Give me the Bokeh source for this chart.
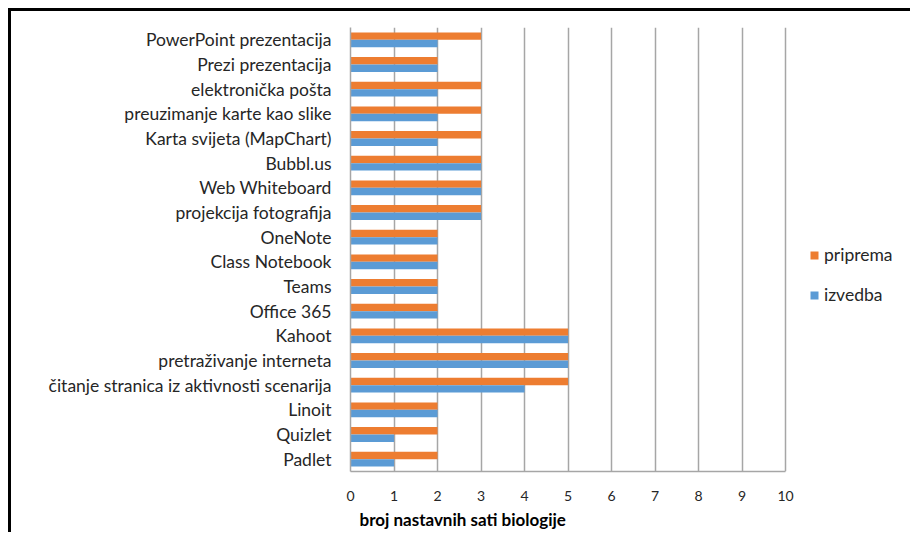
from bokeh.plotting import figure
from bokeh.models import Legend, LegendItem, Title, FixedTicker
from bokeh.transform import dodge
from bokeh.embed import file_html
from bokeh.resources import INLINE
from bokeh.models import ColumnDataSource

# Categories listed from bottom to top
categories = [
    "Padlet", "Quizlet", "Linoit",
    "čitanje stranica iz aktivnosti scenarija",
    "pretraživanje interneta", "Kahoot", "Office 365", "Teams",
    "Class Notebook", "OneNote", "projekcija fotografija",
    "Web Whiteboard", "Bubbl.us", "Karta svijeta (MapChart)",
    "preuzimanje karte kao slike", "elektronička pošta",
    "Prezi prezentacija", "PowerPoint prezentacija",
]
priprema = [2, 2, 2, 5, 5, 5, 2, 2, 2, 2, 3, 3, 3, 3, 3, 3, 2, 3]
izvedba = [1, 1, 2, 4, 5, 5, 2, 2, 2, 2, 3, 3, 3, 2, 2, 2, 2, 2]
x_ticks = [0, 1, 2, 3, 4, 5, 6, 7, 8, 9, 10]
series_names = ["priprema", "izvedba"]
series_colors = ["#ED7D31", "#5B9BD5"]

FONT = "Lato"
X_MAX = 10
X_VIEW_END = 12.71  # frame extends to the right to host the legend

source = ColumnDataSource(dict(cat=categories, priprema=priprema, izvedba=izvedba))

p = figure(
    y_range=categories, x_range=(0, X_VIEW_END),
    width=902, height=524,
    output_backend="svg", toolbar_location=None,
    min_border_left=339, min_border_right=10,
    min_border_top=16, min_border_bottom=64,
    styles={"margin-left": "8px", "margin-top": "8px",
            "border-top": "3px solid black", "border-left": "3px solid black"},
)
p.outline_line_color = None
p.background_fill_color = "white"
p.border_fill_color = "white"

r1 = p.hbar(y=dodge("cat", 0.15, range=p.y_range), right="priprema", left=0,
            height=0.3, source=source, color=series_colors[0], line_color=None)
r2 = p.hbar(y=dodge("cat", -0.15, range=p.y_range), right="izvedba", left=0,
            height=0.3, source=source, color=series_colors[1], line_color=None)

# Grid
p.ygrid.grid_line_color = None
p.xgrid.grid_line_color = "#A6A6A6"
p.xgrid.grid_line_width = 1.5
p.xgrid.ticker = FixedTicker(ticks=x_ticks)

# X axis
p.xaxis.ticker = FixedTicker(ticks=x_ticks)
p.xaxis.bounds = (0, X_MAX)
p.xaxis.axis_line_color = "#A6A6A6"
p.xaxis.axis_line_width = 1.5
p.xaxis.major_tick_line_color = None
p.xaxis.minor_tick_line_color = None
p.xaxis.major_tick_out = 0
p.xaxis.major_tick_in = 0
p.xaxis.major_label_standoff = 19
p.xaxis.major_label_text_font = FONT
p.xaxis.major_label_text_font_size = "14px"
p.xaxis.major_label_text_color = "#262626"

# Y axis
p.yaxis.axis_line_color = "#A6A6A6"
p.yaxis.axis_line_width = 1.5
p.yaxis.major_tick_line_color = None
p.yaxis.major_tick_out = 0
p.yaxis.major_tick_in = 0
p.yaxis.major_label_standoff = 19
p.yaxis.major_label_text_font = FONT
p.yaxis.major_label_text_font_size = "17.5px"
p.yaxis.major_label_text_color = "#262626"

# Axis title (left aligned below the axis)
t = Title(text="broj nastavnih sati biologije", align="left", offset=9,
          text_font=FONT, text_font_size="17px", text_font_style="bold",
          text_color="#000000", standoff=7)
p.add_layout(t, "below")

legend = Legend(
    items=[LegendItem(label=series_names[0], renderers=[r1]),
           LegendItem(label=series_names[1], renderers=[r2])],
    location=(459, 166), orientation="vertical",
    glyph_width=10, glyph_height=10, label_height=20, spacing=19,
    label_standoff=5, padding=0, margin=0,
    border_line_color=None, background_fill_alpha=0,
    label_text_font=FONT, label_text_font_size="17.5px", label_text_color="#262626",
)
p.add_layout(legend, "center")

open("out.html", "w").write(file_html(p, INLINE))
